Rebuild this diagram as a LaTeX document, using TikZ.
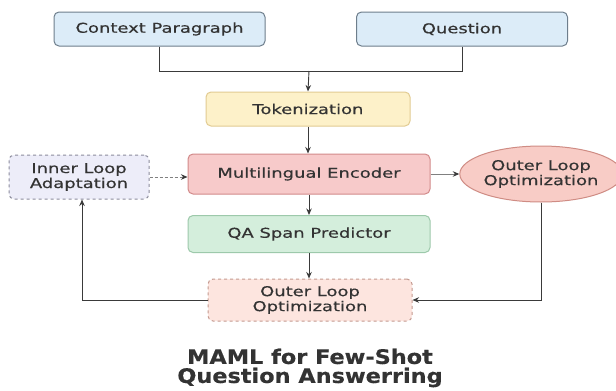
\documentclass[tikz,border=0pt]{standalone}
\usepackage{fontspec}
\setmainfont[FakeStretch=1.33,FakeBold=0.4]{DejaVu Sans}
\newfontfamily\titlefont[FakeStretch=1.12,FakeBold=0.5]{DejaVu Sans Bold}
\usetikzlibrary{arrows.meta,shapes.geometric}
\definecolor{txt}{HTML}{333333}
\definecolor{lnc}{HTML}{3A3A3A}
\definecolor{bluef}{HTML}{DCECF8}
\definecolor{blued}{HTML}{6E7E8C}
\definecolor{yelf}{HTML}{FDF1C9}
\definecolor{yeld}{HTML}{E2CB92}
\definecolor{redf}{HTML}{F7CACA}
\definecolor{redd}{HTML}{D28A8A}
\definecolor{grnf}{HTML}{D4EEDC}
\definecolor{grnd}{HTML}{9DC9AB}
\definecolor{lavf}{HTML}{EDEDF9}
\definecolor{lavd}{HTML}{8C8C9C}
\definecolor{ellf}{HTML}{F8CCC6}
\definecolor{elld}{HTML}{CF8C84}
\definecolor{outf}{HTML}{FDE5DF}
\definecolor{outd}{HTML}{C49A90}
\tikzset{
  box/.style={draw, rounded corners=5pt, line width=1pt, inner sep=0pt,
    align=center, text=txt, font=\fontsize{13.5}{16}\selectfont},
  conn/.style={draw=lnc, line width=0.9pt, -{Stealth[length=6.5pt,width=5.5pt,color=lnc]}},
  plain/.style={draw=lnc, line width=0.9pt},
}
\begin{document}
\begin{tikzpicture}[x=1pt,y=-1pt]
\fill[white] (0,0) rectangle (616,391);
\useasboundingbox (0,0) rectangle (616,391);

\node[box, fill=bluef, draw=blued, minimum width=211pt, minimum height=34pt] (ctx) at (159.5,29) {Context Paragraph};
\node[box, fill=bluef, draw=blued, minimum width=211pt, minimum height=34pt] (q) at (462,29) {Question};
\node[box, fill=yelf, draw=yeld, minimum width=204pt, minimum height=34pt] (tok) at (308,109) {Tokenization};
\node[box, fill=redf, draw=redd, minimum width=242pt, minimum height=40pt] (enc) at (309,174) {Multilingual Encoder};
\node[box, fill=grnf, draw=grnd, minimum width=242pt, minimum height=37pt] (qa) at (309,234) {QA Span Predictor};
\node[box, fill=lavf, draw=lavd, dashed, minimum width=140pt, minimum height=44pt, font=\fontsize{13.5}{15}\selectfont] (inner) at (79,177) {Inner Loop\\Adaptation};
\node[ellipse, draw=elld, fill=ellf, line width=1pt, inner sep=0pt, minimum width=146pt, minimum height=56pt, align=center, text=txt, font=\fontsize{13.5}{15}\selectfont] (ell) at (541,174) {Outer Loop\\Optimization};
\node[box, fill=outf, draw=outd, dashed, minimum width=204pt, minimum height=42pt, font=\fontsize{13.5}{15}\selectfont] (out) at (310,300) {Outer Loop\\Optimization};

\coordinate (j) at (309,71);
\draw[plain] (ctx.south) |- (j);
\draw[plain] (q.south) |- (j);
\draw[conn] (j) -- (tok.north);
\draw[conn] (tok.south) -- (tok.south |- enc.north);
\draw[conn] (enc.south) -- (qa.north);
\draw[conn] (qa.south) -- (qa.south |- out.north);
\draw[conn, draw=gray, dash pattern=on 3pt off 2pt] (inner.east) -- (inner.east -| enc.west);
\draw[conn, draw=gray] (enc.east) -- (ell.west);
\draw[conn] (ell.south) |- (out.east);
\draw[conn] (out.west) -| ([xshift=3pt]inner.south);

\node[text=txt, font=\titlefont\fontsize{20}{20}\selectfont, align=center] (title) at (310,368) {MAML for Few-Shot\\[-1pt]Question Answerring};
\end{tikzpicture}
\end{document}
